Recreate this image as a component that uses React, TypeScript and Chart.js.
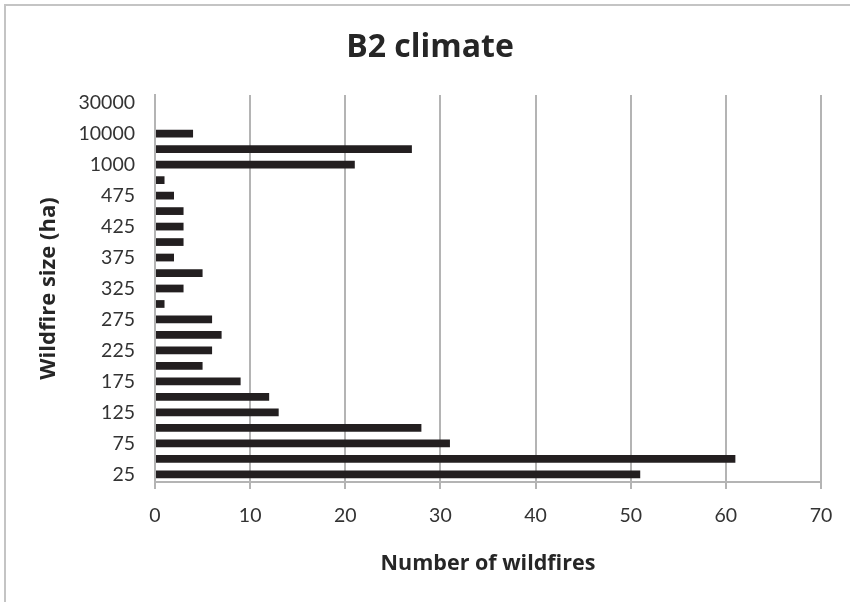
import React, { useEffect, useRef } from "react";
import { Chart, registerables } from "chart.js";

Chart.register(...registerables);

const sizeClasses: string[] = [
  "25", "50", "75", "100", "125", "150", "175", "200", "225", "250",
  "275", "300", "325", "350", "375", "400", "425", "450", "475", "500",
  "1000", "5000", "10000", "20000", "30000",
];

const wildfireCounts: number[] = [
  51, 61, 31, 28, 13, 12, 9, 5, 6, 7,
  6, 1, 3, 5, 2, 3, 3, 3, 2, 1,
  21, 27, 4, 0, 0,
];

const chartTitle = "B2 climate";
const xAxisTitle = "Number of wildfires";
const yAxisTitle = "Wildfire size (ha)";

const TICK_FONT = "Lato, 'Open Sans', sans-serif";
const TITLE_FONT = "'Open Sans', Lato, sans-serif";

const PAD_LEFT = 39;

export default function App() {
  const canvasRef = useRef<HTMLCanvasElement | null>(null);

  useEffect(() => {
    const canvas = canvasRef.current;
    if (!canvas) return;
    const chart = new Chart(canvas, {
      type: "bar",
      data: {
        labels: sizeClasses,
        datasets: [
          {
            data: wildfireCounts,
            backgroundColor: "#231f20",
            borderWidth: 0,
            barPercentage: 0.5,
            categoryPercentage: 1,
          },
        ],
      },
      options: {
        indexAxis: "y",
        animation: false,
        responsive: true,
        maintainAspectRatio: false,
        layout: { padding: { left: PAD_LEFT, right: 29, top: 0, bottom: 0 } },
        plugins: {
          legend: { display: false },
          tooltip: { enabled: false },
          title: {
            display: true,
            text: chartTitle,
            color: "#262626",
            font: { family: TITLE_FONT, size: 32, weight: "bold", lineHeight: 1.2 },
            padding: { top: 29, bottom: 27.6 },
          },
        },
        scales: {
          x: {
            type: "linear",
            min: 0,
            max: 70,
            ticks: {
              stepSize: 10,
              color: "#333333",
              font: { family: TICK_FONT, size: 19.5 },
              padding: 15,
            },
            grid: {
              color: "#b4b4b4",
              lineWidth: 2,
              tickLength: 7,
              drawTicks: true,
            },
            border: { display: true, color: "#b4b4b4", width: 2 },
            title: {
              display: true,
              text: xAxisTitle,
              color: "#262626",
              font: { family: TITLE_FONT, size: 21.5, weight: "bold", lineHeight: 1.2 },
              padding: { top: 0, bottom: 25 },
            },
            afterFit: (scale: any) => {
              scale.height = 602 - 482;
            },
          },
          y: {
            type: "category",
            reverse: true,
            offset: true,
            ticks: {
              autoSkip: false,
              color: "#333333",
              font: { family: TICK_FONT, size: 19.5 },
              padding: 20,
              callback: (_v: any, i: number) => (i % 2 === 0 ? sizeClasses[i] : ""),
            },
            grid: { display: false, drawTicks: false },
            border: { display: true, color: "#b4b4b4", width: 2 },
            title: {
              display: true,
              text: yAxisTitle,
              color: "#262626",
              font: { family: TITLE_FONT, size: 22, weight: "bold", lineHeight: 1.2 },
              padding: { top: 35.5 - PAD_LEFT, bottom: 0 },
            },
            afterFit: (scale: any) => {
              scale.width = 155 - PAD_LEFT;
            },
          },
        },
      },
    });
    return () => chart.destroy();
  }, []);

  return (
    <div
      style={{
        position: "fixed",
        left: 0,
        top: 0,
        width: 850,
        height: 602,
        overflow: "hidden",
        background: "#ffffff",
      }}
    >
      <div
        style={{
          position: "absolute",
          left: 4,
          top: 4,
          width: 900,
          height: 700,
          border: "2px solid #c4c4c4",
          boxSizing: "border-box",
        }}
      />
      <div style={{ position: "absolute", left: 0, top: 0, width: 850, height: 602 }}>
        <canvas ref={canvasRef} />
      </div>
    </div>
  );
}
